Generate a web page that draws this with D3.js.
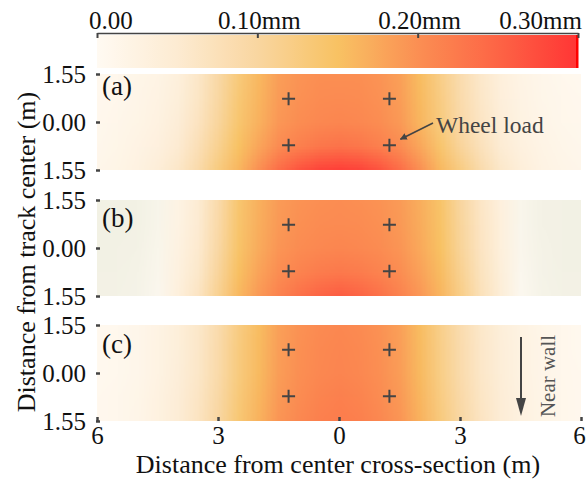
<!DOCTYPE html>
<html>
<head>
<meta charset="utf-8">
<script src="https://cdn.jsdelivr.net/npm/d3@7"></script>
<style>
  html, body { margin: 0; padding: 0; background: #fff; }
  svg { display: block; font-family: "Liberation Serif", "Times New Roman", serif; }
</style>
</head>
<body>
<svg id="chart" width="586" height="480"></svg>
<script>
// Sample positions along the track (m) and across the track (m)
const xPos = [-6,-5.5,-5,-4.5,-4,-3.5,-3,-2.5,-2,-1.5,-1,-0.5,0,0.5,1,1.5,2,2.5,3,3.5,4,4.5,5,5.5,6];
const yPos = [-1.55,-0.775,0,0.775,1.55];

// Displacement (mm), one row per cross-track position, top row first
const panelA = [
  [0.005,0.01,0.015,0.02,0.035,0.06,0.095,0.13,0.16,0.185,0.195,0.2,0.2,0.2,0.195,0.183,0.155,0.12,0.085,0.057,0.034,0.02,0.012,0.008,0.005],
  [0.006,0.01,0.016,0.024,0.038,0.063,0.098,0.135,0.163,0.188,0.198,0.203,0.205,0.203,0.198,0.186,0.158,0.124,0.088,0.06,0.036,0.022,0.014,0.009,0.006],
  [0.008,0.012,0.018,0.027,0.042,0.068,0.103,0.14,0.167,0.192,0.202,0.208,0.21,0.208,0.202,0.19,0.162,0.128,0.092,0.064,0.04,0.025,0.016,0.011,0.008],
  [0.01,0.015,0.022,0.032,0.05,0.078,0.113,0.15,0.178,0.205,0.218,0.228,0.232,0.228,0.218,0.203,0.176,0.142,0.104,0.073,0.047,0.03,0.02,0.014,0.01],
  [0.012,0.018,0.027,0.04,0.06,0.09,0.128,0.162,0.2,0.24,0.268,0.285,0.29,0.285,0.268,0.24,0.2,0.16,0.125,0.088,0.058,0.037,0.024,0.017,0.012]
];
const panelB = [
  [-0.02,-0.02,-0.018,-0.012,0.022,0.048,0.09,0.14,0.168,0.188,0.196,0.2,0.202,0.2,0.196,0.188,0.17,0.145,0.1,0.062,0.032,-0.01,-0.017,-0.019,-0.02],
  [-0.02,-0.02,-0.018,-0.011,0.024,0.05,0.093,0.142,0.17,0.19,0.199,0.203,0.205,0.203,0.199,0.19,0.172,0.147,0.103,0.064,0.034,-0.009,-0.017,-0.019,-0.02],
  [-0.02,-0.019,-0.017,-0.01,0.026,0.053,0.097,0.145,0.173,0.194,0.203,0.208,0.21,0.208,0.203,0.194,0.175,0.15,0.106,0.066,0.035,-0.008,-0.016,-0.019,-0.02],
  [-0.019,-0.018,-0.016,-0.008,0.03,0.058,0.104,0.152,0.18,0.202,0.214,0.222,0.226,0.222,0.214,0.202,0.182,0.156,0.112,0.07,0.038,-0.006,-0.015,-0.018,-0.019],
  [-0.018,-0.017,-0.015,-0.006,0.034,0.066,0.113,0.16,0.19,0.215,0.235,0.25,0.258,0.25,0.235,0.215,0.192,0.163,0.12,0.075,0.04,-0.004,-0.014,-0.017,-0.018]
];
const panelC = [
  [0.004,0.007,0.012,0.022,0.037,0.058,0.088,0.125,0.155,0.183,0.197,0.205,0.208,0.205,0.197,0.183,0.155,0.118,0.085,0.058,0.038,0.024,0.015,0.009,0.005],
  [0.005,0.008,0.013,0.023,0.038,0.059,0.09,0.127,0.157,0.185,0.199,0.207,0.21,0.207,0.199,0.185,0.157,0.12,0.087,0.059,0.039,0.025,0.016,0.01,0.005],
  [0.005,0.008,0.013,0.024,0.039,0.06,0.091,0.128,0.158,0.186,0.2,0.208,0.212,0.208,0.2,0.186,0.158,0.121,0.088,0.06,0.04,0.025,0.016,0.01,0.006],
  [0.006,0.009,0.015,0.026,0.042,0.064,0.095,0.132,0.162,0.19,0.204,0.213,0.217,0.213,0.204,0.19,0.162,0.125,0.092,0.063,0.042,0.027,0.017,0.011,0.006],
  [0.006,0.01,0.016,0.028,0.044,0.067,0.099,0.136,0.166,0.194,0.208,0.217,0.221,0.217,0.208,0.194,0.166,0.129,0.096,0.066,0.044,0.028,0.018,0.011,0.007]
];

const panels = [
  { label: "(a)", grid: panelA, top: 74, labelDy: 21 },
  { label: "(b)", grid: panelB, top: 200, labelDy: 27 },
  { label: "(c)", grid: panelC, top: 325, labelDy: 28 }
];

// Wheel load positions (m)
const wheelX = [-1.25, 1.25];
const wheelY = [-0.75, 0.75];

// Colour bar
const barTicks = [0, 0.1, 0.2, 0.3];
const barTickLabels = ["0.00", "0.10mm", "0.20mm", "0.30mm"];

const xTicks = [-6, -3, 0, 3, 6];
const xTickLabels = ["6", "3", "0", "3", "6"];
const yTicks = [-1.55, 0, 1.55];
const yTickLabels = ["1.55", "0.00", "1.55"];

const colorStops = [-0.02, 0, 0.05, 0.1, 0.15, 0.2, 0.25, 0.3];
const colorRange = ["#f2f1e4", "#fffaf2", "#fdebd2", "#f9d6a0", "#f8c263", "#fb8f53", "#fd6445", "#ff3535"];

const svg = d3.select("#chart");
const panelH = 96;
const axisColor = "#444";

const color = d3.scaleLinear().domain(colorStops).range(colorRange).clamp(true);
const x = d3.scaleLinear().domain([-6, 6]).range([97, 581]);

// ---- colour bar ----
const cb = d3.scaleLinear().domain([0, 0.3]).range([97, 578]);
const defs = svg.append("defs");
const grad = defs.append("linearGradient").attr("id", "cbGrad");
d3.range(0, 31).forEach(i => {
  const v = 0.3 * i / 30;
  grad.append("stop").attr("offset", (i / 30 * 100) + "%").attr("stop-color", color(v));
});
svg.append("rect").attr("x", cb(0)).attr("y", 35).attr("width", cb(0.3) - cb(0)).attr("height", 33)
  .attr("fill", "url(#cbGrad)");
svg.append("rect").attr("x", cb(0.3) - 2).attr("y", 35).attr("width", 2.5).attr("height", 33).attr("fill", "#ff0000");

const cbAxis = svg.append("g").attr("transform", "translate(0,33)")
  .call(d3.axisBottom(cb).tickValues(barTicks).tickSize(5).tickSizeOuter(0).tickFormat(""));
cbAxis.select(".domain").attr("stroke", axisColor).attr("stroke-width", 1.6);
cbAxis.selectAll(".tick line").attr("stroke", axisColor).attr("stroke-width", 2);
svg.append("g").selectAll("text").data(barTicks).join("text")
  .attr("x", (d, i) => i === 0 ? cb(d) - 8 : i === barTicks.length - 1 ? cb(d) + 4 : cb(d) + 2)
  .attr("y", 29)
  .attr("text-anchor", (d, i) => i === 0 ? "start" : i === barTicks.length - 1 ? "end" : "middle")
  .attr("font-size", 25).attr("fill", "#111")
  .text((d, i) => barTickLabels[i]);

// ---- heat map panels ----
panels.forEach((p, k) => {
  const y = d3.scaleLinear().domain([-1.55, 1.55]).range([p.top, p.top + panelH]);
  const nx = xPos.length, ny = yPos.length;

  // small raster: one pixel per sample, scaled up smoothly by the renderer
  const cv = document.createElement("canvas");
  cv.width = nx; cv.height = ny;
  const ctx = cv.getContext("2d");
  const img = ctx.createImageData(nx, ny);
  p.grid.forEach((row, j) => row.forEach((v, i) => {
    const c = d3.rgb(color(v));
    const o = (j * nx + i) * 4;
    img.data[o] = c.r; img.data[o + 1] = c.g; img.data[o + 2] = c.b; img.data[o + 3] = 255;
  }));
  ctx.putImageData(img, 0, 0);

  const dx = x(xPos[1]) - x(xPos[0]);
  const dy = y(yPos[1]) - y(yPos[0]);
  const clipId = "clip" + k;
  defs.append("clipPath").attr("id", clipId).append("rect")
    .attr("x", x(-6)).attr("y", p.top).attr("width", x(6) - x(-6)).attr("height", panelH);

  const g = svg.append("g");
  g.append("image")
    .attr("href", cv.toDataURL())
    .attr("x", x(xPos[0]) - dx / 2).attr("y", y(yPos[0]) - dy / 2)
    .attr("width", nx * dx).attr("height", ny * dy)
    .attr("preserveAspectRatio", "none")
    .attr("clip-path", `url(#${clipId})`);

  // wheel load markers
  const pts = [];
  wheelX.forEach(wx => wheelY.forEach(wy => pts.push([wx, wy])));
  g.selectAll("path.plus").data(pts).join("path").attr("class", "plus")
    .attr("d", d => {
      const cx = x(d[0]), cy = y(d[1]), s = 6.5;
      return `M${cx - s},${cy}H${cx + s}M${cx},${cy - s}V${cy + s}`;
    })
    .attr("stroke", "#444").attr("stroke-width", 2).attr("fill", "none");

  // panel label
  g.append("text").attr("x", 102).attr("y", p.top + p.labelDy)
    .attr("font-size", 27).attr("fill", "#111").text(p.label);

  // y axis
  const yAx = svg.append("g").attr("transform", "translate(100,0)")
    .call(d3.axisLeft(y).tickValues(yTicks).tickSize(4).tickSizeOuter(0).tickPadding(10)
      .tickFormat((d, i) => yTickLabels[i]));
  yAx.select(".domain").remove();
  yAx.selectAll(".tick line").attr("stroke", axisColor).attr("stroke-width", 2.5);
  yAx.selectAll(".tick text").attr("font-size", 25).attr("fill", "#111")
    .attr("font-family", "Liberation Serif").attr("dy", "0.33em");

  if (k === 0) {
    // annotation arrow pointing at a wheel load
    defs.append("marker").attr("id", "arrHead").attr("viewBox", "0 0 10 10")
      .attr("refX", 9).attr("refY", 5).attr("markerWidth", 7).attr("markerHeight", 7)
      .attr("orient", "auto").attr("markerUnits", "userSpaceOnUse")
      .append("path").attr("d", "M0,0L10,5L0,10Z").attr("fill", "#444");
    const tx = x(wheelX[1]) + 11, ty = y(wheelY[1]) - 6;
    g.append("line").attr("x1", 433).attr("y1", 123).attr("x2", tx).attr("y2", ty)
      .attr("stroke", "#444").attr("stroke-width", 1.6).attr("marker-end", "url(#arrHead)");
    g.append("text").attr("x", 436).attr("y", 133).attr("font-size", 23.5).attr("fill", "#444")
      .text("Wheel load");
  }

  if (k === 2) {
    // bottom x axis
    const xAx = svg.append("g").attr("transform", `translate(0,${p.top + panelH - 4})`)
      .call(d3.axisBottom(x).tickValues(xTicks).tickSize(4).tickSizeOuter(0).tickPadding(10)
        .tickFormat((d, i) => xTickLabels[i]));
    xAx.select(".domain").remove();
    xAx.selectAll(".tick line").attr("stroke", axisColor).attr("stroke-width", 2.5);
    xAx.selectAll(".tick text").attr("font-size", 25).attr("fill", "#111")
      .attr("font-family", "Liberation Serif").attr("y", 27).attr("dy", 0)
      .attr("dx", (d, i) => i === xTicks.length - 1 ? -2 : 0);

    // near-wall arrow
    svg.append("line").attr("x1", 521).attr("y1", 337).attr("x2", 521).attr("y2", 400)
      .attr("stroke", "#444").attr("stroke-width", 2);
    svg.append("path").attr("d", "M516,398L526,398L521,416Z").attr("fill", "#444");
    svg.append("text").attr("transform", "translate(555,376) rotate(-90)")
      .attr("text-anchor", "middle").attr("font-size", 21).attr("fill", "#555").text("Near wall");
  }
});

// axis titles
svg.append("text").attr("x", 338).attr("y", 473).attr("text-anchor", "middle")
  .attr("font-size", 26).attr("fill", "#111").text("Distance from center cross-section (m)");
svg.append("text").attr("transform", "translate(35,252) rotate(-90)").attr("text-anchor", "middle")
  .attr("font-size", 26).attr("fill", "#111").text("Distance from track center (m)");
</script>
</body>
</html>
